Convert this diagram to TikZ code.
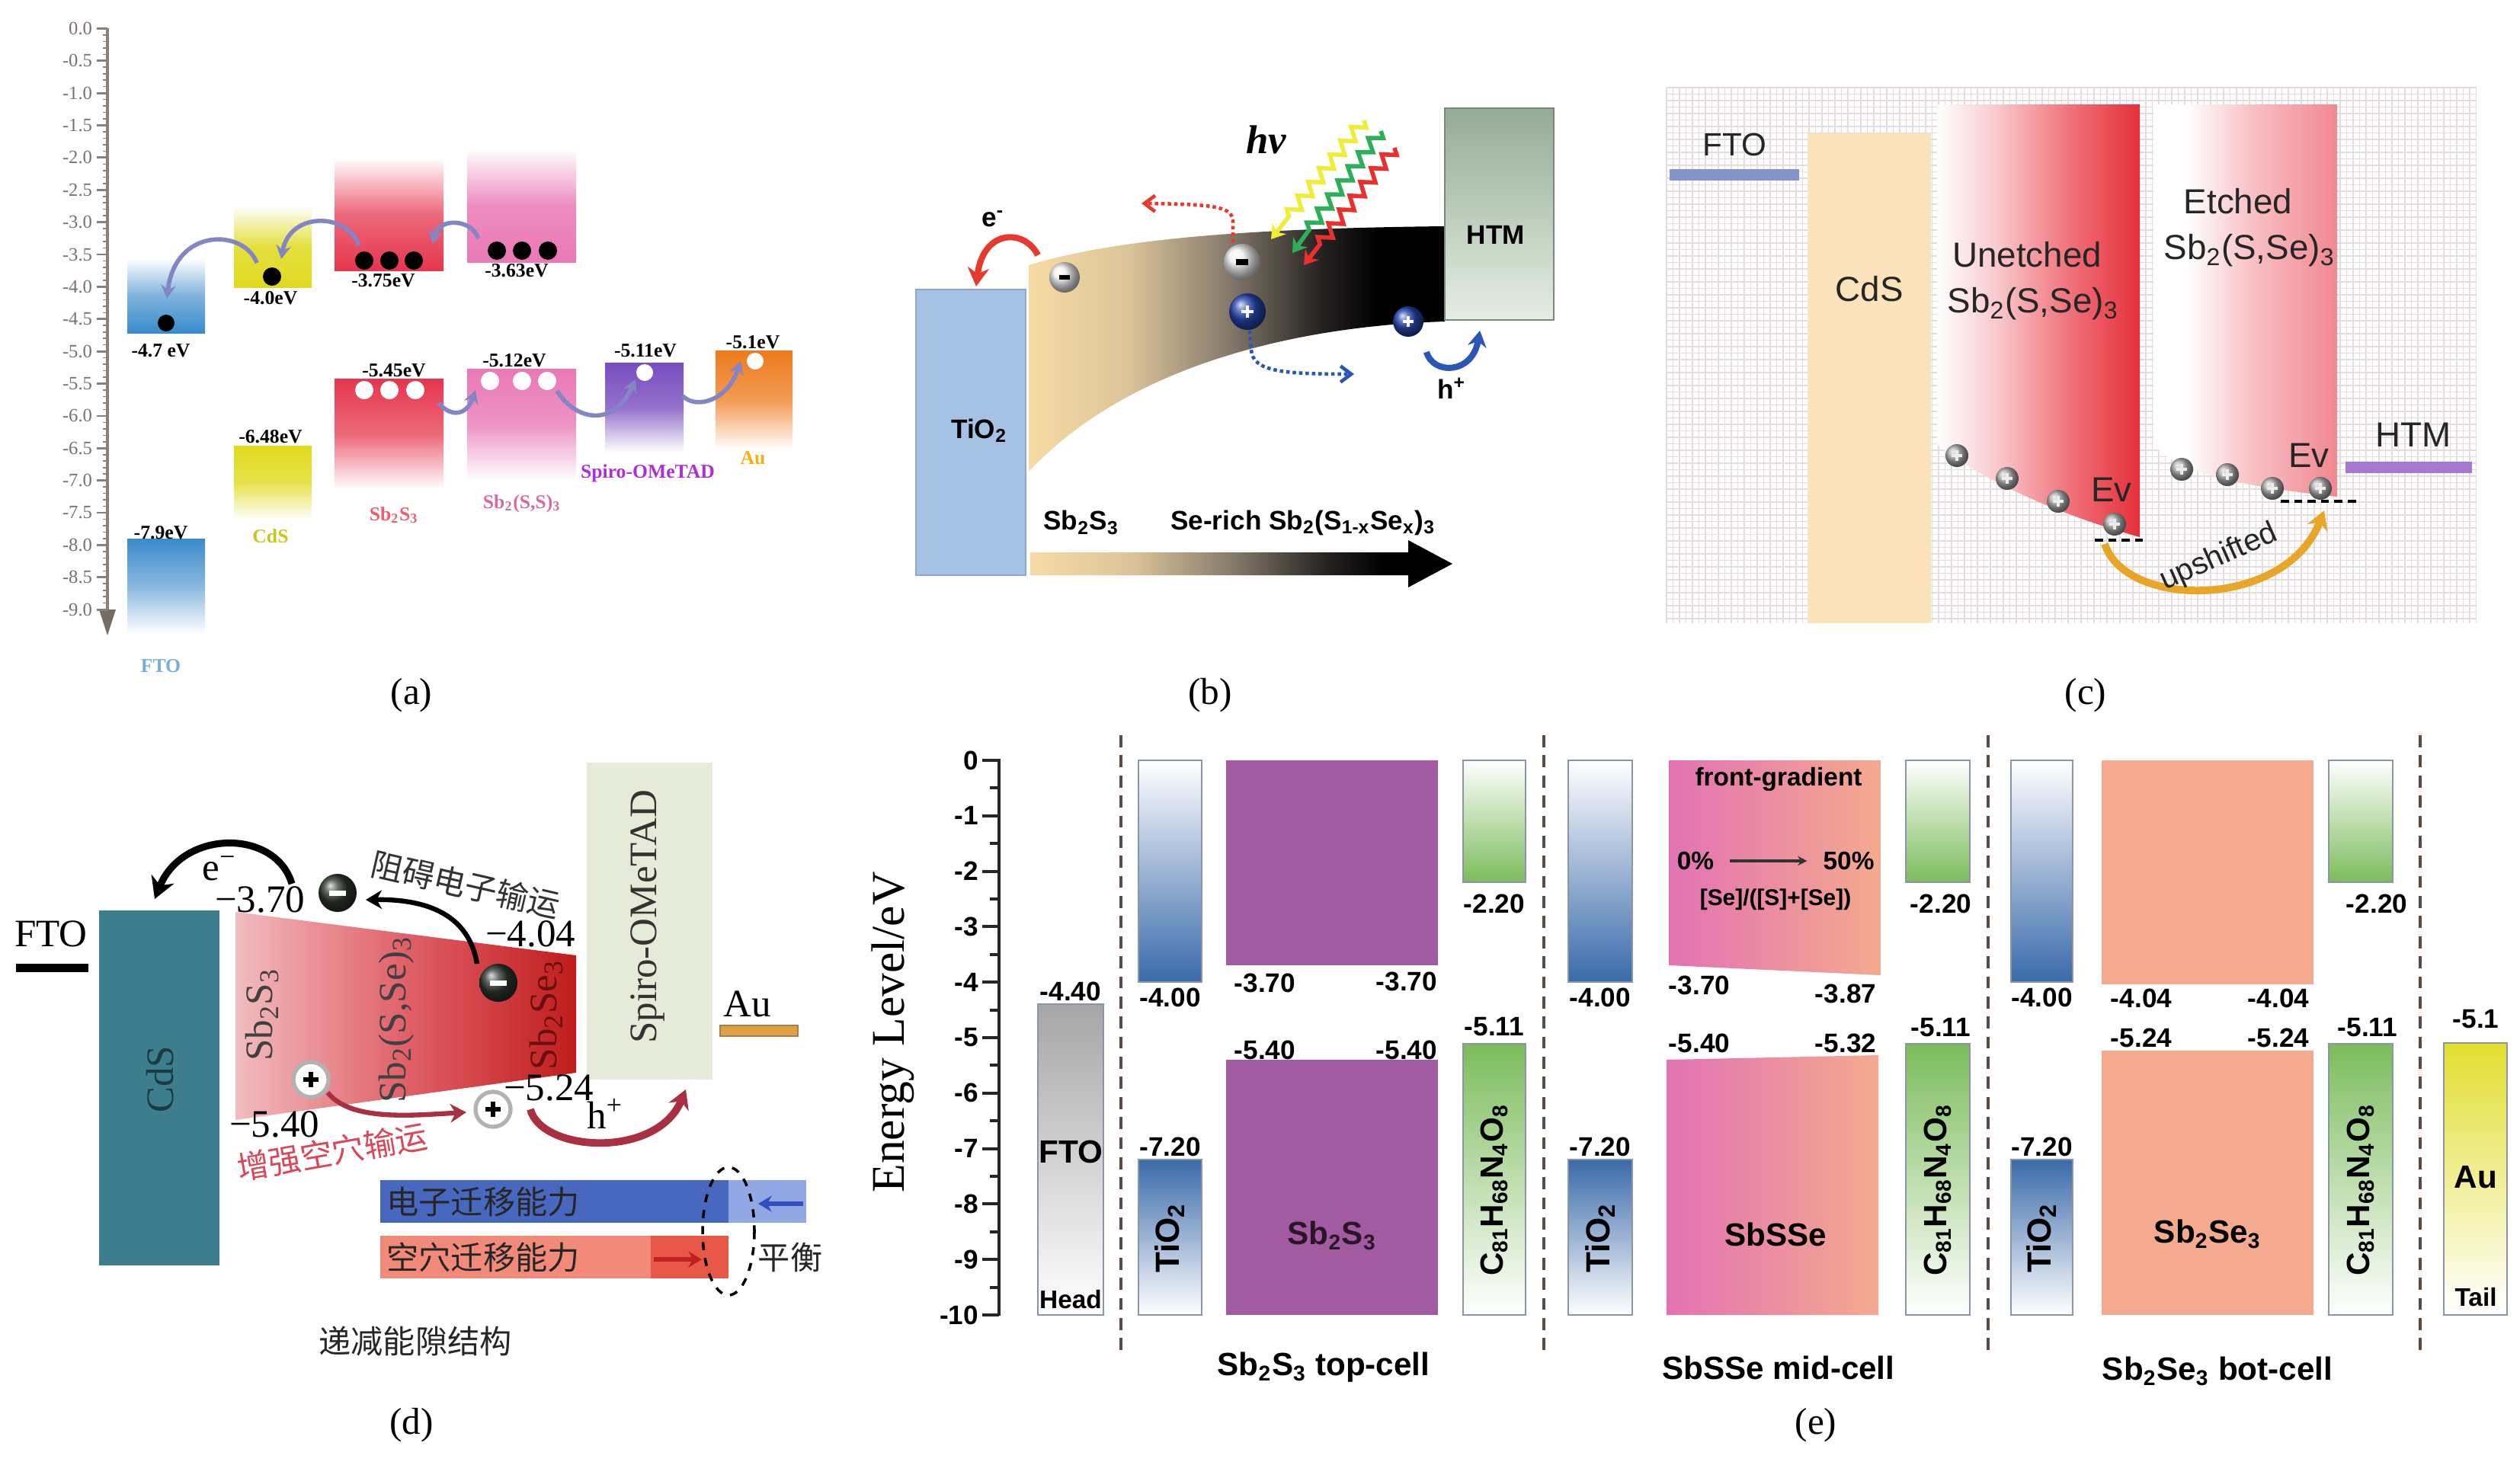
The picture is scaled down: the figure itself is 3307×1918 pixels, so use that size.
\documentclass[tikz,border=0pt]{standalone}
\usepackage{fontspec}
\setmainfont{Liberation Serif}
\setsansfont{Liberation Sans}
\newfontfamily\cjk{Noto Sans CJK SC}
\usetikzlibrary{arrows.meta,decorations.pathmorphing}

\definecolor{aBlue}{HTML}{3A8ACB}
\definecolor{aYel}{HTML}{E0DA1E}
\definecolor{aRed}{HTML}{E6364E}
\definecolor{aPink}{HTML}{EA78B6}
\definecolor{aPur}{HTML}{7A4DBF}
\definecolor{aOra}{HTML}{EE7A1C}
\definecolor{aArr}{HTML}{8486C4}
\definecolor{aAxis}{HTML}{8C7F77}
\definecolor{aTxt}{HTML}{7A7070}
\definecolor{bTi}{HTML}{A5C2E4}
\definecolor{bTiD}{HTML}{8EA8CC}
\definecolor{bTan}{HTML}{F7DBA4}
\definecolor{bTan2}{HTML}{DCC49A}
\definecolor{bMid}{HTML}{857A6A}
\definecolor{bDark}{HTML}{262322}
\definecolor{bHtmT}{HTML}{95AB96}
\definecolor{bHtmB}{HTML}{E4EEE2}
\definecolor{bBall}{HTML}{2546B0}
\definecolor{bBlue}{HTML}{2A56B8}
\definecolor{bRed}{HTML}{E63A2E}
\definecolor{zY}{HTML}{EEEE3A}
\definecolor{zG}{HTML}{2EAE58}
\definecolor{zR}{HTML}{E8302C}
\definecolor{cGrid}{HTML}{E4DCDC}
\definecolor{cFto}{HTML}{8394C8}
\definecolor{cCds}{HTML}{FBE4BC}
\definecolor{cRed}{HTML}{E4303A}
\definecolor{cRed2}{HTML}{F07078}
\definecolor{cPink}{HTML}{F8C8CC}
\definecolor{cEt}{HTML}{F08890}
\definecolor{cEt2}{HTML}{F8C0C4}
\definecolor{cHtm}{HTML}{A878D0}
\definecolor{cGold}{HTML}{E8A628}
\definecolor{dCds}{HTML}{3C7E8E}
\definecolor{dCdsT}{HTML}{1C3A42}
\definecolor{dL}{HTML}{F2BCC0}
\definecolor{dM}{HTML}{E06068}
\definecolor{dR}{HTML}{C01C1C}
\definecolor{dSpiro}{HTML}{E6EAD8}
\definecolor{dAu}{HTML}{E0A040}
\definecolor{dAuD}{HTML}{A08050}
\definecolor{dBall}{HTML}{2E362E}
\definecolor{dArrR}{HTML}{A83040}
\definecolor{dTxtR}{HTML}{D84858}
\definecolor{dBlue}{HTML}{4868C0}
\definecolor{dBlueL}{HTML}{92A8E4}
\definecolor{dBlueA}{HTML}{3050C0}
\definecolor{dSal}{HTML}{F28A7A}
\definecolor{dSalD}{HTML}{E85848}
\definecolor{dRedA}{HTML}{C02020}
\definecolor{eTi}{HTML}{3A6AAA}
\definecolor{eGrn}{HTML}{7CBC5C}
\definecolor{ePur}{HTML}{A25AA0}
\definecolor{ePk}{HTML}{E272B4}
\definecolor{eSal}{HTML}{F4AA8E}
\definecolor{eAu}{HTML}{E2DE30}
\definecolor{eSep}{HTML}{5A4C44}
\definecolor{eBord}{HTML}{8A96A6}

\pgfdeclarehorizontalshading{bandb}{100bp}{color(0bp)=(bTan); color(25bp)=(bTan); color(37bp)=(bTan2); color(49bp)=(bMid); color(60bp)=(bDark); color(67bp)=(black); color(100bp)=(black)}
\pgfdeclarehorizontalshading{unet}{100bp}{color(0bp)=(white); color(25bp)=(white); color(40bp)=(cPink); color(58bp)=(cRed2); color(75bp)=(cRed); color(100bp)=(cRed)}
\pgfdeclarehorizontalshading{etch}{100bp}{color(0bp)=(white); color(25bp)=(white); color(34bp)=(white); color(52bp)=(cEt2); color(75bp)=(cEt); color(100bp)=(cEt)}

\begin{document}
\begin{tikzpicture}[x=0.01cm,y=-0.01cm,
  every node/.style={inner sep=0pt,outer sep=0pt,anchor=center},
  capt/.style={font=\fontsize{14}{16}\selectfont},
  albl/.style={font=\fontsize{7.3}{8}\selectfont\bfseries},
  aclr/.style={font=\fontsize{7.3}{8}\selectfont\bfseries},
  aax/.style={font=\fontsize{7}{8}\selectfont,text=aTxt},
  arrA/.style={draw=aArr,line width=1.6pt,-{Stealth[length=5pt,width=5.5pt]}},
  bl/.style={font=\sffamily\bfseries\fontsize{10}{12}\selectfont},
  cl/.style={font=\sffamily\fontsize{13}{15}\selectfont,text=black!85},
  dl/.style={font=\fontsize{14.5}{16}\selectfont},
  dcj/.style={font=\cjk\fontsize{12}{14}\selectfont},
  eNum/.style={font=\sffamily\bfseries\fontsize{10}{11}\selectfont},
  eBig/.style={font=\sffamily\bfseries\fontsize{12}{14}\selectfont},
  eSm/.style={font=\sffamily\bfseries\fontsize{9.5}{11}\selectfont},
  eSepS/.style={draw=eSep,line width=1.1pt,dash pattern=on 4.5pt off 3pt},
  eBox/.style={draw=eBord,line width=0.5pt}
]
\useasboundingbox[fill=white] (0,0) rectangle (3307,1918);

%================ (a) =================
\draw[aAxis,line width=1pt] (141,37) -- (141,802);
\fill[aAxis!85!black] (130,800) -- (152,800) -- (141,834) -- cycle;
\foreach \lab [count=\i from 0] in {0.0,-0.5,-1.0,-1.5,-2.0,-2.5,-3.0,-3.5,-4.0,-4.5,-5.0,-5.5,-6.0,-6.5,-7.0,-7.5,-8.0,-8.5,-9.0}{
  \draw[aAxis,line width=0.8pt] (127,{37.4+42.375*\i}) -- (141,{37.4+42.375*\i});
  \node[aax,anchor=east] (ay\i) at (121,{37.4+42.375*\i}) {\lab};
}
\foreach \j in {1,...,89}{\draw[aAxis,line width=0.45pt] (135,{37.4+8.475*\j}) -- (141,{37.4+8.475*\j});}

\shade[top color=white,bottom color=aBlue,middle color=aBlue!65] (167,339) rectangle (269,437);
\shade[top color=aBlue,bottom color=white,middle color=aBlue!60] (167,707) rectangle (269,832);
\shade[top color=white,bottom color=aYel,middle color=aYel!85] (307,270) rectangle (409,377);
\shade[top color=aYel,bottom color=white,middle color=aYel!80] (307,585) rectangle (409,682);
\shade[top color=white,bottom color=aRed,middle color=aRed!75] (439,207) rectangle (582,355);
\shade[top color=aRed,bottom color=white,middle color=aRed!75] (439,497) rectangle (582,642);
\shade[top color=white,bottom color=aPink,middle color=aPink!85] (613,196) rectangle (756,344);
\shade[top color=aPink,bottom color=white,middle color=aPink!80] (613,484) rectangle (756,630);
\shade[top color=aPur,bottom color=white,middle color=aPur!80] (794,476) rectangle (897,594);
\shade[top color=aOra,bottom color=white,middle color=aOra!75] (939,460) rectangle (1040,590);

\fill (218,424) circle (11);
\fill (357,363) circle (12);
\foreach \x in {478,511,543}{\fill (\x,342) circle (12);}
\foreach \x in {652,685,719}{\fill (\x,329) circle (12);}
\foreach \x in {478,511,545}{\fill[white] (\x,512) circle (12);}
\foreach \x in {643,685,718}{\fill[white] (\x,500) circle (12);}
\fill[white] (846,489) circle (11);
\fill[white] (991,474) circle (11);

\draw[arrA] (337,345) .. controls (320,300) and (230,298) .. (219,392);
\draw[arrA] (471,322) .. controls (455,278) and (380,278) .. (369,340);
\draw[arrA] (628,313) .. controls (618,286) and (575,286) .. (568,320);
\draw[arrA] (576,529) .. controls (590,547) and (612,547) .. (624,512);
\draw[arrA] (731,513) .. controls (755,552) and (805,562) .. (834,498);
\draw[arrA] (896,520) .. controls (915,538) and (955,525) .. (972,474);

\node[albl] (a47) at (211,460) {-4.7 eV};
\node[albl] (a40) at (355,391) {-4.0eV};
\node[albl] (a375) at (503,368) {-3.75eV};
\node[albl] (a363) at (678,355) {-3.63eV};
\node[albl] (a79) at (211,699) {-7.9eV};
\node[albl] (a648) at (355,573) {-6.48eV};
\node[albl] (a545) at (517,486) {-5.45eV};
\node[albl] (a512) at (675,473) {-5.12eV};
\node[albl] (a511) at (847,460) {-5.11eV};
\node[albl] (a51) at (988,449) {-5.1eV};
\node[aclr,text=aBlue!70] (afto) at (211,874) {FTO};
\node[aclr,text=aYel!90!black] (acds) at (355,704) {CdS};
\node[aclr,text=aRed!80] (asb) at (517,676) {Sb\textsubscript{2}S\textsubscript{3}};
\node[aclr,text=aPink!90!black] (asbs) at (685,661) {Sb\textsubscript{2}(S,S)\textsubscript{3}};
\node[aclr,text=aPur!60!magenta] (aspiro) at (850,621) {Spiro-OMeTAD};
\node[aclr,text=aOra!60!yellow] (aau) at (988,601) {Au};
\node[capt] (capa) at (540,913) {(a)};

%================ (b) =================
\draw[fill=bTi,draw=bTiD,line width=0.6pt] (1202,380) rectangle (1346,755);
\node[bl] (btio) at (1285,565) {TiO\textsubscript{2}};
\shade[shading=bandb] (1350,348) .. controls (1450,318) and (1600,300) .. (1896,297) -- (1896,422) .. controls (1700,428) and (1480,480) .. (1350,619) -- cycle;
\draw[draw=bHtmT!80!black,line width=0.5pt,top color=bHtmT,bottom color=bHtmB] (1896,142) rectangle (2039,420);
\node[bl] (bhtm) at (1963,308) {HTM};
\shade[shading=bandb] (1352,725) -- (1848,725) -- (1848,709) -- (1906,740) -- (1848,771) -- (1848,755) -- (1352,755) -- cycle;
\node[bl] (bsb) at (1419,686) {Sb\textsubscript{2}S\textsubscript{3}};
\node[bl] (bse) at (1710,686) {Se-rich Sb\textsubscript{2}(S\textsubscript{1-x}Se\textsubscript{x})\textsubscript{3}};
\node[font=\fontsize{15}{17}\selectfont\bfseries\itshape] (bhv) at (1662,183) {hν};
\foreach \c/\sx/\sy/\ex/\ey in {zY/1790/158/1668/314, zG/1812/172/1696/332, zR/1830/194/1711/348}{
  \draw[draw=\c,line width=1.6pt,decorate,decoration={zigzag,segment length=6.5pt,amplitude=2.3pt,post=lineto,post length=8pt},-{Stealth[length=5pt,width=6.5pt]}] (\sx,\sy) -- (\ex,\ey);
}
\draw[draw=bRed,line width=2.3pt,-{Stealth[length=7pt,width=8pt]}] (1362,335) .. controls (1345,300) and (1290,300) .. (1281,376);
\node[bl] (be) at (1303,287) {e\textsuperscript{-}};
\draw[draw=bRed,line width=1.3pt,dash pattern=on 1.3pt off 1.1pt,-{Straight Barb[length=4pt,width=6pt]}] (1618,318) -- (1618,292) .. controls (1618,272) and (1600,268) .. (1498,267);
\draw[draw=bBlue,line width=1.3pt,dash pattern=on 1.3pt off 1.1pt,-{Straight Barb[length=4pt,width=6pt]}] (1640,434) -- (1642,460) .. controls (1645,487) and (1680,491) .. (1777,491);
\shade[ball color=white!88!gray] (1397,364) circle (20);
\draw[line width=1.8pt] (1390,364) -- (1404,364);
\shade[ball color=white!88!gray] (1630,344) circle (24);
\draw[line width=2pt] (1622,344) -- (1638,344);
\shade[ball color=bBall] (1637,409) circle (24);
\draw[white,line width=1.4pt] (1629,409) -- (1645,409) (1637,401) -- (1637,417);
\shade[ball color=bBall] (1848,422) circle (20);
\draw[white,line width=1.3pt] (1841,422) -- (1855,422) (1848,415) -- (1848,429);
\draw[draw=bBlue,line width=2.3pt,-{Stealth[length=6pt,width=7pt]}] (1872,462) .. controls (1880,492) and (1932,492) .. (1942,434);
\node[bl] (bh) at (1905,510) {h\textsuperscript{+}};
\node[capt] (capb) at (1588,913) {(b)};

%================ (c) =================
\foreach \gx in {0,...,125}{\draw[cGrid,line width=0.35pt] ({2187+8.5*\gx},115) -- ({2187+8.5*\gx},818);}
\foreach \gy in {0,...,82}{\draw[cGrid,line width=0.35pt] (2187,{115+8.5*\gy}) -- (3250,{115+8.5*\gy});}
\fill[cFto] (2191,222) rectangle (2361,237);
\node[cl,font=\sffamily\fontsize{12}{14}\selectfont] (cfto) at (2276,190) {FTO};
\fill[cCds] (2372,175) rectangle (2534,818);
\node[cl] (ccds) at (2453,379) {CdS};
\shade[shading=unet] (2542,137) -- (2808,137) -- (2808,705) .. controls (2700,675) and (2600,630) .. (2542,583) -- cycle;
\shade[shading=etch] (2826,137) -- (3067,137) -- (3067,652) .. controls (2960,640) and (2860,625) .. (2826,583) -- cycle;
\node[cl] (cun1) at (2660,334) {Unetched};
\node[cl] (cun2) at (2668,399) {Sb\textsubscript{2}(S,Se)\textsubscript{3}};
\node[cl] (cet1) at (2937,264) {Etched};
\node[cl] (cet2) at (2952,329) {Sb\textsubscript{2}(S,Se)\textsubscript{3}};
\foreach \x/\y in {2568/598,2634/628,2701/658,2775/688,2863/616,2923/623,2982/641,3045/641}{
  \shade[ball color=gray!65] (\x,\y) circle (15);
  \draw[white!85!gray,line width=1pt] ({\x-7},\y) -- ({\x+7},\y) (\x,{\y-7}) -- (\x,{\y+7});
}
\node[cl] (cev1) at (2771,643) {Ev};
\node[cl] (cev2) at (3030,598) {Ev};
\draw[line width=1.1pt,dash pattern=on 3pt off 2pt] (2749,709) -- (2819,709);
\draw[line width=1.1pt,dash pattern=on 3pt off 2pt] (2993,658) -- (3093,658);
\fill[cHtm] (3078,606) rectangle (3244,621);
\node[cl] (chtm) at (3167,571) {HTM};
\draw[draw=cGold,line width=2.8pt,-{Stealth[length=7pt,width=8pt]}] (2762,714) .. controls (2790,800) and (3000,800) .. (3050,670);
\node[cl,font=\sffamily\fontsize{11.5}{13}\selectfont,rotate=24] (cup) at (2912,732) {upshifted};
\node[capt] (capc) at (2737,913) {(c)};

%================ (d) =================
\node[dl] (dfto) at (67,1226) {FTO};
\fill (21,1265) rectangle (116,1276);
\fill[dCds] (130,1195) rectangle (288,1661);
\node[dl,rotate=90,text=dCdsT] (dcds) at (210,1417) {CdS};
\shade[left color=dL,right color=dR,middle color=dM] (309,1197) -- (756,1254) -- (756,1408) -- (309,1470) -- cycle;
\node[dl,rotate=90,text=black!75] (dsb1) at (344,1332) {Sb\textsubscript{2}S\textsubscript{3}};
\node[dl,rotate=90,text=black!75] (dsb2) at (520,1338) {Sb\textsubscript{2}(S,Se)\textsubscript{3}};
\node[dl,rotate=90,text=dR!55!black] (dsb3) at (717,1332) {Sb\textsubscript{2}Se\textsubscript{3}};
\fill[dSpiro] (770,1001) rectangle (935,1417);
\node[dl,rotate=90,text=black!80] (dspiro) at (850,1203) {Spiro-OMeTAD};
\node[dl] (dau) at (981,1318) {Au};
\draw[fill=dAu,draw=dAuD,line width=0.6pt] (945,1346) rectangle (1047,1360);
\node[dl] (d370) at (341,1181) {−3.70};
\node[dl] (d404) at (696,1226) {−4.04};
\node[dl] (d540) at (360,1476) {−5.40};
\node[dl] (d524) at (720,1428) {−5.24};
\draw[line width=2.6pt,-{Stealth[length=8pt,width=9pt]}] (383,1160) .. controls (362,1088) and (240,1088) .. (203,1180);
\node[dl] (de) at (288,1140) {e\textsuperscript{−}};
\draw[line width=1.8pt,-{Stealth[length=6pt,width=7pt]}] (626,1265) .. controls (615,1200) and (560,1180) .. (480,1181);
\foreach \x/\y in {443/1172,654/1290}{
  \shade[ball color=dBall] (\x,\y) circle (25);
  \draw[white,line width=2pt] ({\x-11},\y) -- ({\x+11},\y);
}
\node[dcj,rotate=-13,text=black!80] (dzu) at (611,1161) {阻碍电子输运};
\draw[draw=dArrR,line width=1.8pt,-{Stealth[length=6pt,width=7pt]}] (430,1434) .. controls (460,1472) and (540,1464) .. (612,1460);
\foreach \x/\y in {408/1417,647/1456}{
  \draw[fill=white,draw=gray!60,line width=1.5pt] (\x,\y) circle (23);
  \draw[line width=1.8pt] ({\x-10},\y) -- ({\x+10},\y) (\x,{\y-10}) -- (\x,{\y+10});
}
\node[dcj,rotate=10,text=dTxtR] (dzq) at (436,1512) {增强空穴输运};
\draw[draw=dArrR,line width=2.8pt,-{Stealth[length=7pt,width=8pt]}] (696,1456) .. controls (710,1512) and (862,1522) .. (900,1430);
\node[dl] (dh) at (794,1462) {h\textsuperscript{+}};
\fill[dBlue] (499,1549) rectangle (956,1605);
\fill[dBlueL] (956,1549) rectangle (1058,1605);
\node[dcj,text=black!85] (dbt) at (634,1577) {电子迁移能力};
\fill[dSal] (499,1622) rectangle (854,1678);
\fill[dSalD] (854,1622) rectangle (956,1678);
\node[dcj,text=black!85] (drt) at (634,1650) {空穴迁移能力};
\draw[draw=dBlueA,line width=1.5pt,-{Stealth[length=5pt,width=6pt]}] (1054,1580) -- (995,1580);
\draw[draw=dRedA,line width=1.5pt,-{Stealth[length=5pt,width=6pt]}] (858,1653) -- (921,1653);
\draw[line width=1pt,dashed] (956,1616) ellipse [x radius=34,y radius=84];
\node[dcj,text=black!85] (dph) at (1037,1650) {平衡};
\node[dcj,text=black!85] (ddj) at (545,1760) {递减能隙结构};
\node[capt] (capd) at (540,1871) {(d)};

%================ (e) =================
\node[font=\fontsize{17.5}{20}\selectfont,rotate=90] (eyl) at (1172,1355) {Energy Level/eV};
\draw[line width=1.2pt,draw=black!85] (1311,996) -- (1311,1727);
\foreach \v in {0,...,10}{
  \draw[line width=1.1pt,draw=black!85] (1289,{998+72.8*\v}) -- (1311,{998+72.8*\v});
  \node[eNum,anchor=east] (ey\v) at (1284,{998+72.8*\v}) {\ifnum\v=0 0\else -\v\fi};
}
\foreach \v in {0,...,9}{\draw[line width=1.1pt,draw=black!85] (1299,{998+72.8*(\v+0.5)}) -- (1311,{998+72.8*(\v+0.5)});}
\foreach \sx in {1471,2026,2609,3176}{\draw[eSepS] (\sx,965) -- (\sx,1775);}
% FTO
\draw[eBox,top color=gray!70,bottom color=white] (1362,1318) rectangle (1448,1726);
\node[eNum] (efto1) at (1405,1301) {-4.40};
\node[eBig] (efto) at (1405,1512) {FTO};
\node[eSm] (ehead) at (1405,1706) {Head};
% TiO2 x3
\foreach \xa/\xb/\nm in {1494/1577/t1,2058/2142/t2,2639/2720/t3}{
  \draw[eBox,top color=white,bottom color=eTi] (\xa,998) rectangle (\xb,1289);
  \draw[eBox,top color=eTi,bottom color=white] (\xa,1522) rectangle (\xb,1726);
  \node[eNum] (\nm a) at ({(\xa+\xb)/2},1309) {-4.00};
  \node[eNum] (\nm b) at ({(\xa+\xb)/2},1505) {-7.20};
  \node[eBig,rotate=90,font=\sffamily\bfseries\fontsize{12.5}{14}\selectfont] (\nm c) at ({(\xa+\xb)/2},1625) {TiO\textsubscript{2}};
}
% C81 x3
\foreach \xa/\xb/\nm in {1920/2002/c1,2501/2585/c2,3056/3140/c3}{
  \draw[eBox,top color=white,bottom color=eGrn] (\xa,998) rectangle (\xb,1158);
  \draw[eBox,top color=eGrn,bottom color=white] (\xa,1370) rectangle (\xb,1726);
  \node[eBig,rotate=90] (\nm c) at ({(\xa+\xb)/2},1562) {C\textsubscript{81}H\textsubscript{68}N\textsubscript{4}O\textsubscript{8}};
}
\node[eNum] (c1a) at (1961,1186) {-2.20};
\node[eNum] (c1b) at (1961,1348) {-5.11};
\node[eNum] (c2a) at (2547,1186) {-2.20};
\node[eNum] (c2b) at (2547,1349) {-5.11};
\node[eNum] (c3a) at (3119,1186) {-2.20};
\node[eNum] (c3b) at (3107,1349) {-5.11};
% Sb2S3
\fill[ePur] (1609,998) rectangle (1887,1267);
\fill[ePur] (1609,1391) rectangle (1887,1726);
\node[eNum] (s1a) at (1660,1290) {-3.70};
\node[eNum] (s1b) at (1846,1288) {-3.70};
\node[eNum] (s1c) at (1660,1378) {-5.40};
\node[eNum] (s1d) at (1846,1378) {-5.40};
\node[eBig,text=black!75!ePur] (s1n) at (1748,1622) {Sb\textsubscript{2}S\textsubscript{3}};
\node[eBig] (s1t) at (1737,1795) {Sb\textsubscript{2}S\textsubscript{3} top-cell};
% SbSSe
\shade[left color=ePk,right color=eSal] (2190,998) -- (2468,998) -- (2468,1280) -- (2190,1267) -- cycle;
\shade[left color=ePk,right color=eSal] (2187,1391) -- (2465,1385) -- (2465,1726) -- (2187,1726) -- cycle;
\node[eSm] (fg) at (2334,1023) {front-gradient};
\node[eSm] (p0) at (2225,1130) {0\%};
\node[eSm] (p50) at (2426,1130) {50\%};
\draw[line width=0.9pt,draw=black!80,-{Stealth[length=3.5pt,width=3.5pt]},shorten <=6pt,shorten >=6pt] (p0) -- (p50);
\node[font=\sffamily\bfseries\fontsize{8.5}{10}\selectfont] (frac) at (2330,1181) {[Se]/([S]+[Se])};
\node[eNum] (s2a) at (2230,1293) {-3.70};
\node[eNum] (s2b) at (2422,1304) {-3.87};
\node[eNum] (s2c) at (2230,1369) {-5.40};
\node[eNum] (s2d) at (2422,1369) {-5.32};
\node[eBig] (s2n) at (2330,1620) {SbSSe};
\node[eBig] (s2t) at (2334,1795) {SbSSe mid-cell};
% Sb2Se3
\fill[eSal] (2758,998) rectangle (3036,1292);
\fill[eSal] (2758,1379) rectangle (3036,1726);
\node[eNum] (s3a) at (2810,1310) {-4.04};
\node[eNum] (s3b) at (2990,1310) {-4.04};
\node[eNum] (s3c) at (2810,1362) {-5.24};
\node[eNum] (s3d) at (2990,1362) {-5.24};
\node[eBig] (s3n) at (2897,1620) {Sb\textsubscript{2}Se\textsubscript{3}};
\node[eBig] (s3t) at (2910,1800) {Sb\textsubscript{2}Se\textsubscript{3} bot-cell};
% Au
\draw[eBox,top color=eAu,bottom color=white] (3207,1369) rectangle (3290,1726);
\node[eNum] (eau1) at (3249,1338) {-5.1};
\node[eBig] (eau) at (3249,1545) {Au};
\node[eSm] (etail) at (3249,1703) {Tail};
\node[capt] (cape) at (2383,1871) {(e)};
\end{tikzpicture}
\end{document}
